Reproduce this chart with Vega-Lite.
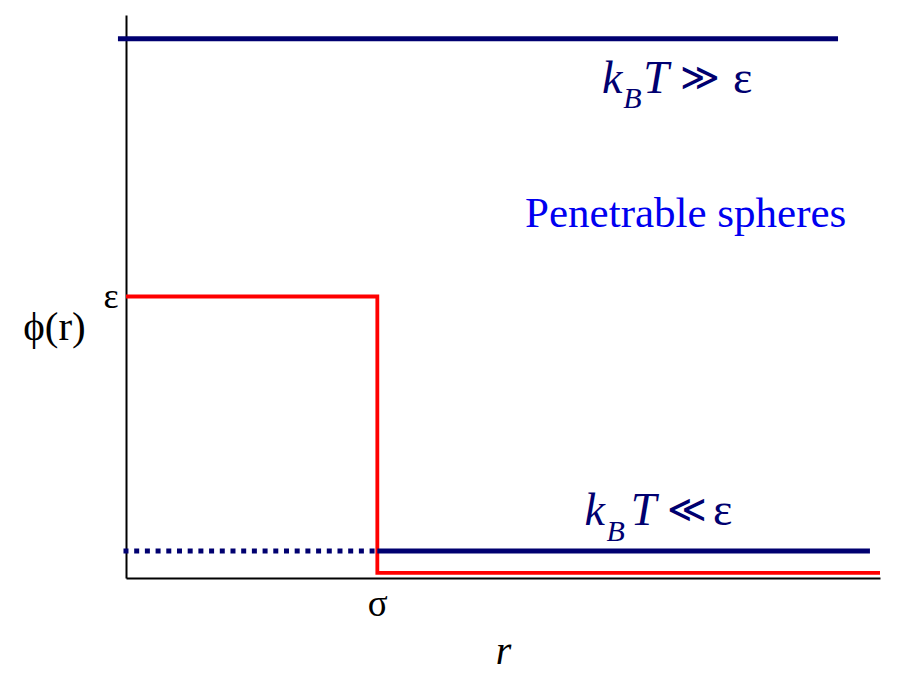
{
  "$schema": "https://vega.github.io/schema/vega-lite/v6.json",
  "width": 754,
  "height": 563,
  "autosize": {"type": "none"},
  "padding": {"left": 126, "top": 15, "right": 27, "bottom": 111},
  "background": "white",
  "config": {"view": {"stroke": null}, "font": "Liberation Serif"},
  "datasets": {
    "step": [
      {"r": 0, "phi": 1},
      {"r": 1, "phi": 1},
      {"r": 1, "phi": 0.018},
      {"r": 3, "phi": 0.018}
    ],
    "high": [
      {"r": -0.032, "phi": 1.916},
      {"r": 2.833, "phi": 1.916}
    ],
    "lowDotted": [
      {"r": -0.01, "phi": 0.096},
      {"r": 1, "phi": 0.096}
    ],
    "low": [
      {"r": 1, "phi": 0.096},
      {"r": 2.96, "phi": 0.096}
    ],
    "italicBig": [
      {"r": 1.894, "phi": 1.723, "label": "k"},
      {"r": 2.058, "phi": 1.723, "label": "T"},
      {"r": 1.824, "phi": 0.188, "label": "k"},
      {"r": 2.008, "phi": 0.188, "label": "T"}
    ],
    "italicSub": [
      {"r": 1.978, "phi": 1.668, "label": "B"},
      {"r": 1.912, "phi": 0.133, "label": "B"}
    ],
    "relations": [
      {"r": 2.204, "phi": 1.735, "label": "≫"},
      {"r": 2.153, "phi": 0.200, "label": "≪"}
    ],
    "eps": [
      {"r": 2.415, "phi": 1.723, "label": "ε"},
      {"r": 2.336, "phi": 0.188, "label": "ε"}
    ],
    "caption": [
      {"r": 1.588, "phi": 1.247, "label": "Penetrable spheres"}
    ]
  },
  "encoding": {
    "x": {
      "field": "r",
      "type": "quantitative",
      "scale": {"domain": [0, 3], "nice": false, "zero": false},
      "axis": {
        "values": [1],
        "labelExpr": "'σ'",
        "ticks": false,
        "tickSize": 0,
        "grid": false,
        "domainColor": "black",
        "domainWidth": 2,
        "labelFont": "Liberation Serif",
        "labelFontSize": 37,
        "labelColor": "black",
        "labelBaseline": "alphabetic",
        "labelPadding": 37,
        "labelFlush": false,
        "title": "r",
        "titleFont": "Liberation Serif",
        "titleFontStyle": "italic",
        "titleFontWeight": "normal",
        "titleFontSize": 40,
        "titleColor": "black",
        "titleBaseline": "alphabetic",
        "titleY": 85
      }
    },
    "y": {
      "field": "phi",
      "type": "quantitative",
      "scale": {"domain": [0, 2], "nice": false, "zero": false},
      "axis": {
        "values": [1],
        "labelExpr": "'ε'",
        "ticks": false,
        "tickSize": 0,
        "grid": false,
        "domainColor": "black",
        "domainWidth": 2,
        "labelFont": "Liberation Serif",
        "labelFontSize": 36,
        "labelColor": "black",
        "labelBaseline": "middle",
        "labelPadding": 8,
        "labelFlush": false,
        "title": "ϕ(r)",
        "titleFont": "Liberation Serif",
        "titleFontWeight": "normal",
        "titleFontSize": 41,
        "titleColor": "black",
        "titleAngle": 0,
        "titleAlign": "center",
        "titleBaseline": "alphabetic",
        "titleX": -72,
        "titleY": 324
      }
    }
  },
  "layer": [
    {
      "data": {"name": "step"},
      "mark": {"type": "line", "color": "#FF0000", "strokeWidth": 3.8, "strokeCap": "butt", "strokeJoin": "miter"},
      "encoding": {"order": {"value": null}}
    },
    {
      "data": {"name": "high"},
      "mark": {"type": "line", "color": "#000070", "strokeWidth": 5, "strokeCap": "butt"},
      "encoding": {}
    },
    {
      "data": {"name": "lowDotted"},
      "mark": {"type": "line", "color": "#000070", "strokeWidth": 5, "strokeCap": "butt", "strokeDash": [5, 5.7]},
      "encoding": {}
    },
    {
      "data": {"name": "low"},
      "mark": {"type": "line", "color": "#000070", "strokeWidth": 5, "strokeCap": "butt"},
      "encoding": {}
    },
    {
      "data": {"name": "italicBig"},
      "mark": {"type": "text", "align": "left", "baseline": "alphabetic", "font": "Liberation Serif", "fontStyle": "italic", "fontSize": 46, "color": "#000070"},
      "encoding": {"text": {"field": "label"}}
    },
    {
      "data": {"name": "italicSub"},
      "mark": {"type": "text", "align": "left", "baseline": "alphabetic", "font": "Liberation Serif", "fontStyle": "italic", "fontSize": 30, "color": "#000070"},
      "encoding": {"text": {"field": "label"}}
    },
    {
      "data": {"name": "relations"},
      "mark": {"type": "text", "align": "left", "baseline": "alphabetic", "font": "DejaVu Serif", "fontSize": 38, "color": "#000070"},
      "encoding": {"text": {"field": "label"}}
    },
    {
      "data": {"name": "eps"},
      "mark": {"type": "text", "align": "left", "baseline": "alphabetic", "font": "Liberation Serif", "fontSize": 46, "color": "#000070"},
      "encoding": {"text": {"field": "label"}}
    },
    {
      "data": {"name": "caption"},
      "mark": {"type": "text", "align": "left", "baseline": "alphabetic", "font": "Liberation Serif", "fontSize": 43, "color": "#0000F0"},
      "encoding": {"text": {"field": "label"}}
    }
  ]
}
